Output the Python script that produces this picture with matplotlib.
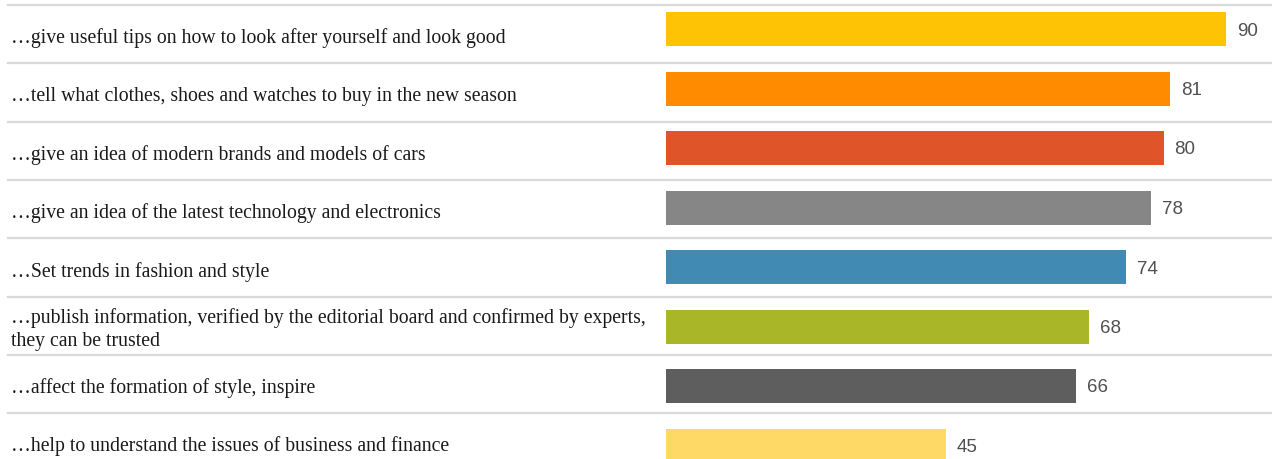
import matplotlib
matplotlib.use("Agg")
import matplotlib.pyplot as plt
from matplotlib.lines import Line2D

# Survey statements and share of respondents agreeing (%)
statements = [
    "\u2026give useful tips on how to look after yourself and look good",
    "\u2026tell what clothes, shoes and watches to buy in the new season",
    "\u2026give an idea of modern brands and models of cars",
    "\u2026give an idea of the latest technology and electronics",
    "\u2026Set trends in fashion and style",
    "\u2026publish information, verified by the editorial board and confirmed by experts,\nthey can be trusted",
    "\u2026affect the formation of style, inspire",
    "\u2026help to understand the issues of business and finance",
]
values = [90, 81, 80, 78, 74, 68, 66, 45]
colors = ["#FFC305", "#FF8B00", "#E0542A", "#868686",
          "#418AB3", "#A8B628", "#5E5E5E", "#FFD966"]

W, H = 1275, 460
fig = plt.figure(figsize=(W / 100, H / 100), dpi=100)

# Table layer: row separators and statement text
row_h = 58.3
row_top = 6.0
tab = fig.add_axes([0, 0, 1, 1])
tab.set_xlim(0, W)
tab.set_ylim((H - row_top) / row_h, -row_top / row_h)
tab.axis("off")
n = len(statements)
for k in range(n + 1):
    tab.add_line(Line2D([8, 1271], [k, k], color="#D9D9D9", lw=1.6))
for i, s in enumerate(statements):
    tab.text(11, i + 0.555, s, ha="left", va="center",
             family=["Liberation Serif", "DejaVu Serif"], fontsize=14.25,
             color="#1A1A1A", linespacing=1.27)

# Bar layer
bar_left = 665.5
px_per_unit = 560.3 / 90
spacing = 59.5
first_center = 30.0
ax = fig.add_axes([bar_left / W, 0, 1 - bar_left / W, 1])
ax.set_xlim(0, (W - bar_left) / px_per_unit)
ax.set_ylim((H - first_center) / spacing, -first_center / spacing)
ax.axis("off")
ypos = list(range(n))
ax.barh(ypos, values, height=34 / spacing, color=colors, edgecolor="none")
for y, v in zip(ypos, values):
    ax.annotate(str(v), (v, y), xytext=(11, -1), textcoords="offset pixels",
                ha="left", va="center", fontsize=13.5, color="#505050",
                family=["Liberation Sans Narrow", "Liberation Sans", "DejaVu Sans"])

fig.savefig("out.png", dpi=100, facecolor="white")
